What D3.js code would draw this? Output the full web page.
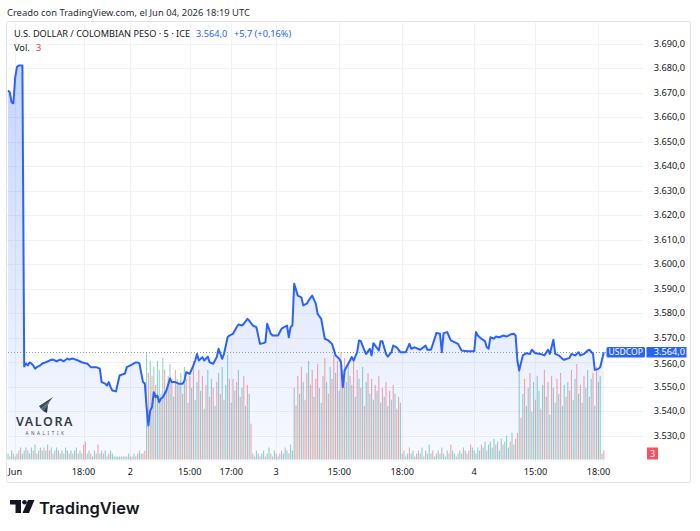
<!DOCTYPE html>
<html>
<head>
<meta charset="utf-8">
<script src="https://cdnjs.cloudflare.com/ajax/libs/d3/7.8.5/d3.min.js"></script>
<style>
	body { margin: 0; background: #fff; }
	svg { display: block; font-family: "Noto Sans", sans-serif; }
</style>
</head>
<body>
<div id="chart"></div>
<script>
// USD/COP, 5 min bars, Jun 1 - Jun 4. x is the bar index
var linePoints = [
	[0,3670.8],[1,3670.1],[2,3666.0],[3,3665.6],[4,3676.2],[5,3680.5],[6,3681.0],[8,3681.0],
	[9,3558.2],[10,3559.4],[11,3558.6],[12,3559.8],[13,3559.4],[14,3558.6],[15,3557.3],[16,3557.9],[18,3558.6],[19,3559.4],
	[21,3559.9],[23,3560.6],[25,3561.0],[27,3560.3],[29,3561.0],[31,3560.3],[33,3561.4],[34,3561.0],[36,3561.4],[39,3560.6],
	[41,3559.9],[43,3559.5],[44,3559.4],[46,3557.9],[49,3557.9],[51,3557.3],[52,3551.8],[54,3551.2],[55,3550.4],[56,3551.8],
	[57,3549.7],[58,3548.4],[60,3548.0],[61,3551.2],[62,3554.5],[65,3555.3],[66,3557.9],[68,3558.6],[71,3559.8],[72,3559.8],
	[73,3559.4],[75,3551.8],[76,3551.3],[77,3541.6],[78,3534.1],[79,3540.2],[80,3541.6],[81,3547.7],[82,3545.6],[83,3546.3],
	[84,3543.6],[85,3545.1],[86,3545.6],[88,3548.4],[90,3553.3],[91,3551.8],[93,3551.8],[95,3551.1],[97,3551.1],[98,3552.4],
	[99,3555.8],[101,3555.2],[103,3558.6],[104,3560.6],[105,3563.3],[106,3560.6],[108,3562.0],[109,3560.6],[111,3562.2],
	[112,3559.9],[114,3559.3],[116,3562.0],[117,3565.4],[119,3561.3],[120,3563.3],[122,3570.1],[123,3570.8],[125,3571.5],
	[127,3574.2],[128,3575.3],[130,3574.9],[131,3575.6],[133,3577.6],[134,3576.9],[136,3574.9],[138,3574.2],[140,3567.4],
	[142,3567.7],[143,3568.1],[144,3575.6],[146,3571.5],[147,3570.8],[150,3570.8],[152,3573.6],[155,3574.9],[156,3570.1],
	[157,3574.2],[158,3574.9],[159,3591.9],[161,3587.1],[163,3586.4],[164,3583.1],[166,3583.8],[167,3585.1],[169,3587.1],
	[171,3583.8],[172,3579.7],[174,3577.6],[176,3569.5],[178,3568.8],[180,3567.4],[182,3562.7],[184,3561.3],[185,3559.9],
	[186,3549.7],[187,3556.5],[189,3559.3],[191,3562.0],[192,3560.6],[194,3564.0],[195,3568.8],[196,3568.5],[198,3564.7],
	[199,3563.3],[201,3565.4],[202,3562.7],[203,3567.7],[204,3566.7],[206,3564.7],[207,3568.5],[208,3568.5],[210,3563.3],
	[211,3562.2],[213,3564.0],[214,3566.7],[216,3566.0],[218,3564.0],[221,3564.0],[223,3567.4],[224,3565.4],[226,3566.0],
	[229,3565.0],[232,3566.7],[233,3565.0],[235,3565.0],[238,3571.8],[240,3571.5],[241,3564.0],[242,3571.8],[244,3572.2],
	[246,3568.8],[248,3568.1],[250,3567.4],[252,3564.7],[255,3564.4],[259,3564.4],[260,3572.2],[261,3570.8],[263,3569.5],
	[265,3568.5],[266,3566.0],[267,3565.4],[268,3570.1],[270,3569.5],[271,3570.4],[273,3570.1],[275,3570.8],[277,3570.4],
	[279,3571.2],[281,3571.5],[282,3570.8],[283,3560.6],[284,3556.5],[286,3562.7],[288,3563.6],[290,3563.3],[291,3565.0],
	[293,3563.6],[296,3563.3],[298,3562.7],[300,3565.0],[301,3563.3],[303,3569.1],[304,3563.3],[306,3562.7],[308,3561.3],
	[309,3560.9],[312,3561.7],[313,3563.3],[315,3562.7],[317,3564.0],[318,3562.7],[320,3563.3],[322,3564.7],[323,3565.0],
	[325,3563.3],[326,3556.8],[328,3557.2],[329,3557.9],[331,3564.0]
];

// volume per bar, negative = down bar (red)
var volume = [
	2,-1,3,-2,1,2,-3,4,-2,3, 4,-3,2,4,-3,5,2,-3,4,3, -4,3,5,-3,4,-2,3,4,-3,2,
	3,-2,4,3,-2,3,-2,3,4,-2, 3,2,-5,-6,2,3,-2,1,3,-2, -5,2,3,-2,3,1,-2,3,2,1,
	1,1,-1,1,1,-1,1,2,1,-1, 2,1,-2,3,2,-2,-3,
	36,-29,33,-28,31,-25,33,30,-22,34, -30,24,-28,32,-26,21,-30,27,-25,29,
	-22,31,-27,19,-28,24,-33,20,26,-30, 23,-28,17,-25,30,-21,27,-24,18,-26,
	29,-22,31,-20,25,35,-27,19,-27,23, -26,30,-21,24,-28,18,-25,22,-12,
	2,-1,3,2,-1,2,3,-1,2,4, -2,1,3,-2,1,2,-3,2,4,3, -2,5,3,
	24,-18,-28,22,-31,26,-20,-29,33,-25, -30,21,-27,-32,24,19,-28,-34,26,-22,
	31,-27,-35,29,-33,23,-36,30,-34,26, 32,-28,25,-33,21,-30,27,-24,31,-18,
	26,-29,22,-27,20,-25,23,-28,19,-24, 21,-26,18,-23,20,-25,22,-17,-21,19,
	2,-3,1,2,-4,2,3,-1,2,-3, 2,4,-1,3,-2,5,2,-3,1,2, -3,2,4,-2,1,3,-2,-5,3,2,
	1,-2,3,2,-4,3,-2,3,-5,4, 3,-2,4,3,-5,4,6,-3,5,6, 4,7,-5,6,3,7,-5,6,8,4,
	-6,9,5,-7,
	-9,30,-14,22,-27,18,24,-29,16,26, -20,28,23,-17,25,-30,21,-26,15,-28,
	24,19,-27,22,-29,18,25,-21,26,-23, -30,20,27,-32,22,-25,19,-28,24,30,
	-21,27,-29,18,-31,26,28,
	-2,-3
];

var priceTicks = [3530,3540,3550,3560,3570,3580,3590,3600,3610,3620,3630,3640,3650,3660,3670,3680,3690];
var timeTickBars = [4, 42, 68, 101, 124, 149, 184, 219, 259, 293, 328];
var timeTickLabels = ["Jun", "18:00", "2", "15:00", "17:00", "3", "15:00", "18:00", "4", "15:00", "18:00"];

var symbol = "USDCOP";
var lastChange = "+5,7 (+0,16%)";

var width = 700, height = 531;
var pane = {left: 6, right: 643, top: 22, bottom: 462};
var blue = "#2962ff", green = "rgba(38,166,154,0.5)", red = "rgba(239,83,80,0.5)";
var textColor = "#131722";

var locale = d3.formatLocale({decimal: ",", thousands: ".", grouping: [3], currency: ["$", ""]});
var fmt = locale.format(",.1f");

var svg = d3.select('#chart').append('svg')
	.attr('width', width)
	.attr('height', height);

var x = d3.scaleLinear().domain([0, 331]).range([8, 603.8]);
var y = d3.scaleLinear().domain([3530, 3690]).range([435.5, 43.5]);
var vy = d3.scaleLinear().domain([0, 36]).range([459.5, 352]);

var lastPrice = linePoints[linePoints.length - 1][1];

// top caption
svg.append('text')
	.attr('x', 7).attr('y', 16)
	.attr('font-size', 9.4)
	.attr('fill', '#2a2e39')
	.text('Creado con TradingView.com, el Jun 04, 2026 18:19 UTC');

// frame
svg.append('rect')
	.attr('x', 6.5).attr('y', 21.5)
	.attr('width', 684).attr('height', 461)
	.attr('rx', 2)
	.attr('fill', 'none')
	.attr('stroke', '#e0e3eb');

// grid
svg.append('g').selectAll('line')
	.data(priceTicks)
	.enter()
	.append('line')
	.attr('x1', pane.left + 1).attr('x2', pane.right)
	.attr('y1', function(d) { return Math.round(y(d)) + 0.5 })
	.attr('y2', function(d) { return Math.round(y(d)) + 0.5 })
	.attr('stroke', '#f0f2f6');

svg.append('g').selectAll('line')
	.data(timeTickBars)
	.enter()
	.append('line')
	.attr('x1', function(d) { return Math.round(x(d)) + 0.5 })
	.attr('x2', function(d) { return Math.round(x(d)) + 0.5 })
	.attr('y1', pane.top + 1).attr('y2', pane.bottom)
	.attr('stroke', '#f0f2f6');

// volume
svg.append('g').selectAll('rect')
	.data(volume)
	.enter()
	.append('rect')
	.attr('x', function(d, i) { return x(i) - 0.55 })
	.attr('width', 1.1)
	.attr('y', function(d) { return vy(Math.abs(d)) })
	.attr('height', function(d) { return vy(0) - vy(Math.abs(d)) })
	.attr('fill', function(d) { return d < 0 ? red : green });

// area + line
var grad = svg.append('defs').append('linearGradient')
	.attr('id', 'areaFill')
	.attr('gradientUnits', 'userSpaceOnUse')
	.attr('x1', 0).attr('x2', 0)
	.attr('y1', 43).attr('y2', pane.bottom);
grad.append('stop').attr('offset', 0).attr('stop-color', 'rgba(41,98,255,0.28)');
grad.append('stop').attr('offset', 1).attr('stop-color', 'rgba(41,98,255,0.03)');

var area = d3.area()
	.x(function(d) { return x(d[0]) })
	.y0(pane.bottom)
	.y1(function(d) { return y(d[1]) });

var line = d3.line()
	.x(function(d) { return x(d[0]) })
	.y(function(d) { return y(d[1]) });

svg.append('path')
	.datum(linePoints)
	.attr('d', area)
	.attr('fill', 'url(#areaFill)');

// last price dotted line
svg.append('line')
	.attr('x1', 8).attr('x2', 606)
	.attr('y1', Math.round(y(lastPrice)) + 0.5)
	.attr('y2', Math.round(y(lastPrice)) + 0.5)
	.attr('stroke', '#9598a1')
	.attr('stroke-width', 1)
	.attr('stroke-dasharray', '1,2');

svg.append('path')
	.datum(linePoints)
	.attr('d', line)
	.attr('fill', 'none')
	.attr('stroke', blue)
	.attr('stroke-width', 2)
	.attr('stroke-linejoin', 'round');

// price scale (the label under the last price box is hidden by it)
var ly = Math.round(y(lastPrice));
svg.append('g').selectAll('text')
	.data(priceTicks)
	.enter()
	.append('text')
	.attr('x', 685)
	.attr('y', function(d) { return Math.abs(y(d) - ly) < 12 ? y(d) + 4.8 : y(d) + 3.3 })
	.attr('text-anchor', 'end')
	.attr('font-size', 9.2)
	.attr('fill', textColor)
	.text(function(d) { return fmt(d) });

// time scale
svg.append('g').selectAll('text')
	.data(timeTickBars)
	.enter()
	.append('text')
	.attr('x', function(d) { return x(d) })
	.attr('y', 475)
	.attr('text-anchor', 'middle')
	.attr('font-size', 9.2)
	.attr('fill', textColor)
	.text(function(d, i) { return timeTickLabels[i] });

// last price labels
svg.append('rect')
	.attr('x', 606.5).attr('y', ly - 5)
	.attr('width', 38.5).attr('height', 10.5)
	.attr('rx', 1.5)
	.attr('fill', blue);
svg.append('text')
	.attr('x', 625.7).attr('y', ly + 3.3)
	.attr('text-anchor', 'middle')
	.attr('font-size', 8.6)
	.attr('fill', '#fff')
	.text(symbol);
svg.append('rect')
	.attr('x', 646.5).attr('y', ly - 5)
	.attr('width', 40).attr('height', 10.5)
	.attr('fill', blue);
svg.append('text')
	.attr('x', 685).attr('y', ly + 3.3)
	.attr('text-anchor', 'end')
	.attr('font-size', 9.2)
	.attr('fill', '#fff')
	.text(fmt(lastPrice));

// last volume label
var lastVol = Math.abs(volume[volume.length - 1]);
svg.append('rect')
	.attr('x', 647).attr('y', 447.5)
	.attr('width', 11).attr('height', 12)
	.attr('fill', '#f7525f');
svg.append('text')
	.attr('x', 652.5).attr('y', 456.6)
	.attr('text-anchor', 'middle')
	.attr('font-size', 9)
	.attr('fill', '#fff')
	.text(lastVol);

// legend
var legend = svg.append('text')
	.attr('x', 14).attr('y', 36.5)
	.attr('font-size', 9.2);
legend.append('tspan').attr('fill', textColor)
	.text('U.S. DOLLAR / COLOMBIAN PESO · 5 · ICE');
legend.append('tspan').attr('fill', blue).attr('x', 196)
	.text(fmt(lastPrice));
legend.append('tspan').attr('fill', blue).attr('x', 234)
	.text(lastChange);

var vol = svg.append('text')
	.attr('x', 14).attr('y', 50.5)
	.attr('font-size', 9.2);
vol.append('tspan').attr('fill', textColor).text('Vol.');
vol.append('tspan').attr('fill', '#f23645').attr('x', 36).text(lastVol);

// Valora Analitik watermark
var logo = svg.append('g');
logo.append('polygon').attr('points', '39,406 53,397 50,401 41,409').attr('fill', '#3c4a5c');
logo.append('polygon').attr('points', '41,409 50,401 48,405 43,411').attr('fill', '#55657a');
logo.append('polygon').attr('points', '43,411 48,405 47,413').attr('fill', '#2b3644');
logo.append('text')
	.attr('x', 45).attr('y', 426)
	.attr('text-anchor', 'middle')
	.attr('font-size', 12.5)
	.attr('font-weight', 600)
	.attr('letter-spacing', 1.6)
	.attr('fill', '#333c47')
	.text('VALORA');
logo.append('text')
	.attr('x', 46).attr('y', 434.5)
	.attr('text-anchor', 'middle')
	.attr('font-size', 4.6)
	.attr('letter-spacing', 2.6)
	.attr('fill', '#4a5360')
	.text('ANALITIK');

// TradingView footer logo
var tv = svg.append('g').attr('fill', textColor);
tv.append('rect').attr('x', 10).attr('y', 500).attr('width', 11).attr('height', 4.5);
tv.append('rect').attr('x', 15.5).attr('y', 500).attr('width', 5.5).attr('height', 13);
tv.append('circle').attr('cx', 24.5).attr('cy', 502.3).attr('r', 2.3);
tv.append('polygon').attr('points', '28,500 34.5,500 29,513 22.5,513');
tv.append('text')
	.attr('x', 39).attr('y', 513.5)
	.attr('font-family', 'Inter, sans-serif')
	.attr('font-size', 16.5)
	.attr('font-weight', 600)
	.text('TradingView');
</script>
</body>
</html>
